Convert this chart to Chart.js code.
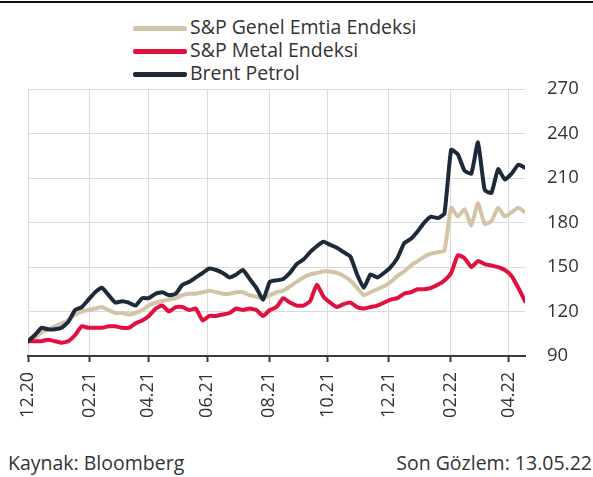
<!DOCTYPE html>
<html>
<head>
<meta charset="utf-8">
<script src="https://cdn.jsdelivr.net/npm/chart.js@4.4.0/dist/chart.umd.min.js"></script>
<style>
  body { margin: 0; background: #fff; font-family: "Open Sans", sans-serif; color: #333; }
  #wrap { position: relative; width: 593px; height: 477px; overflow: hidden; }
  #topline { position: absolute; left: 0; top: 1px; width: 593px; height: 2px; background: #111; }
  .leg { position: absolute; left: 133px; height: 23px; font-size: 19.5px; line-height: 23px; white-space: nowrap; }
  .leg i { display: inline-block; width: 54px; height: 5px; vertical-align: middle; margin-right: 3px; border-radius: 2px; }
  #box { position: absolute; left: 0; top: 56px; width: 593px; height: 384px; }
  .foot { position: absolute; top: 450px; font-size: 19.5px; line-height: 26px; }
</style>
</head>
<body>
<div id="wrap">
  <div id="topline"></div>
  <div id="legend"></div>
  <div id="box"><canvas id="myChart"></canvas></div>
  <div class="foot" style="left:8px">Kaynak: Bloomberg</div>
  <div class="foot" style="right:1px">Son Gözlem: 13.05.22</div>
</div>
<script>
// weekly, 04.12.20 = 100 ... 13.05.22
const emtia = [100, 102, 106, 108, 110, 112, 114, 118, 120, 121, 122, 123, 121, 119, 119, 118, 119, 121, 124, 126,
	127, 128, 129, 131, 132, 132, 133, 134, 133, 132, 132, 133, 133, 131, 130, 129, 131, 133, 134, 137,
	140, 143, 145, 146, 147, 147, 146, 144, 141, 136, 131, 133, 135, 137, 140, 144, 147, 151, 154, 157,
	159, 160, 161, 190, 184, 189, 178, 193, 179, 181, 190, 184, 187, 190, 187];
const metal = [100, 100, 100, 101, 100, 99, 100, 104, 110, 109, 109, 109, 110, 110, 109, 109, 112, 114, 117, 122,
	124, 120, 123, 123, 121, 122, 114, 117, 117, 118, 119, 122, 121, 122, 121, 117, 121, 123, 129, 126,
	124, 124, 127, 138, 130, 126, 123, 125, 126, 123, 122, 123, 124, 126, 128, 129, 132, 133, 135, 135,
	136, 138, 141, 146, 158, 156, 150, 154, 152, 151, 150, 148, 144, 136, 127];
const brent = [100, 104, 109, 108, 108, 109, 113, 121, 123, 128, 133, 136, 131, 126, 127, 126, 124, 129, 129, 132,
	133, 131, 132, 138, 140, 143, 146, 149, 148, 146, 143, 145, 148, 142, 136, 128, 140, 141, 142, 146,
	152, 155, 160, 164, 167, 165, 163, 160, 157, 145, 136, 145, 143, 146, 150, 156, 166, 169, 174, 180,
	184, 183, 186, 229, 226, 215, 213, 234, 202, 200, 216, 209, 213, 219, 217];

const tickLabels = ['12.20', '02.21', '04.21', '06.21', '08.21', '10.21', '12.21', '02.22', '04.22'];
const tickWeeks = [0, 9.2, 17.9, 26.7, 35.9, 44.6, 53.7, 62.9, 71.6];

const seriesNames = ['S&P Genel Emtia Endeksi', 'S&P Metal Endeksi', 'Brent Petrol'];
const seriesColors = ['#d3c4a7', '#e2103f', '#1d2a3a'];
const seriesData = [emtia, metal, brent];

// legend as html
let leg = document.getElementById('legend');
seriesNames.forEach((n, i) => {
	let d = document.createElement('div');
	d.className = 'leg';
	d.style.top = (15 + i * 23) + 'px';
	d.innerHTML = '<i style="background:' + seriesColors[i] + '"></i>';
	d.appendChild(document.createTextNode(n));
	leg.appendChild(d);
});

let datasets = seriesData.map((arr, i) => ({
	label: seriesNames[i],
	data: arr.map((v, k) => ({x: k, y: v})),
	borderColor: seriesColors[i],
	borderWidth: 4,
	pointRadius: 0,
	tension: 0.15,
	borderJoinStyle: 'round',
	borderCapStyle: 'round',
	order: 3 - i
}));

var ctx = document.getElementById('myChart').getContext('2d');
var myChart = new Chart(ctx, {
	type: 'line',
	data: { datasets: datasets },
	options: {
		responsive: true,
		maintainAspectRatio: false,
		animation: false,
		layout: { padding: { left: 28, top: 6, right: 0, bottom: 0 } },
		plugins: { legend: { display: false }, tooltip: { enabled: false } },
		scales: {
			x: {
				type: 'linear',
				min: 0,
				max: 74,
				afterBuildTicks: s => { s.ticks = tickWeeks.map(v => ({value: v})); },
				afterFit: s => { s.height = 84; },
				grid: { color: '#dadada', lineWidth: 1, tickLength: 6, tickColor: '#3a3a3a', tickWidth: 2 },
				border: { display: true, color: '#3a3a3a', width: 2 },
				ticks: {
					autoSkip: false,
					maxRotation: 90,
					minRotation: 90,
					padding: 10,
					color: '#333',
					font: { family: 'Open Sans', size: 18 },
					callback: (v) => {
						let k = tickWeeks.indexOf(v);
						return k >= 0 ? tickLabels[k] : '';
					}
				}
			},
			y: {
				position: 'right',
				min: 90,
				max: 270,
				afterFit: s => { s.width = 68; },
				grid: { color: '#dadada', lineWidth: 1, drawTicks: false },
				border: { display: false },
				ticks: {
					stepSize: 30,
					padding: 22,
					color: '#333',
					font: { family: 'Open Sans', size: 18.5 }
				}
			}
		}
	}
});
</script>
</body>
</html>
